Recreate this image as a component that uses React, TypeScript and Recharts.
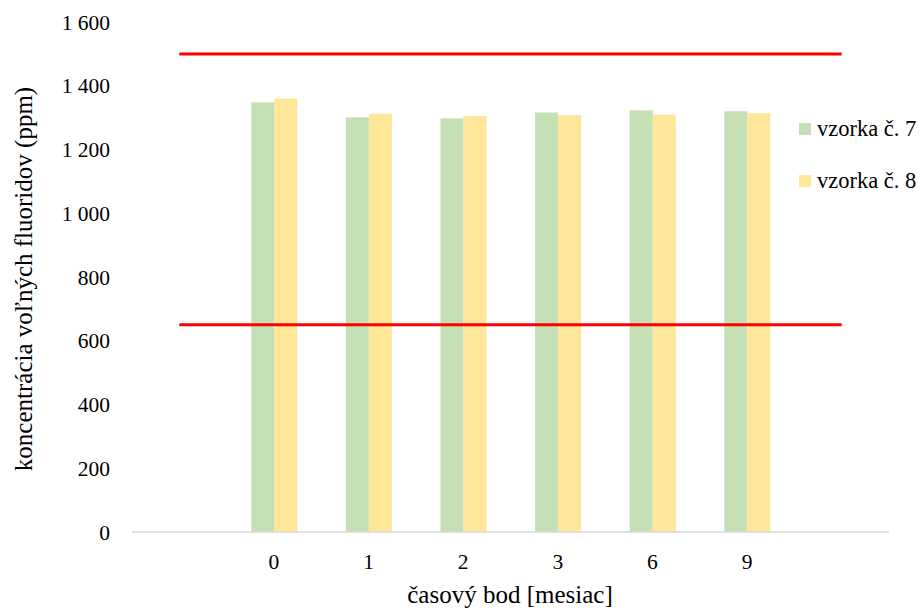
import { ComposedChart, Bar, Line, XAxis, YAxis, Legend } from "recharts";

// časové body (prázdne kategórie na okrajoch nesú len hraničné čiary)
const categories = ["", "0", "1", "2", "3", "6", "9", ""];
const sample7 = [null, 1348, 1301, 1298, 1316, 1323, 1320, null];
const sample8 = [null, 1360, 1312, 1305, 1308, 1310, 1314, null];
const upperLimit = [1500, 1500, 1500, 1500, 1500, 1500, 1500, 1500];
const lowerLimit = [650, 650, 650, 650, 650, 650, 650, 650];
const yTicks = [0, 200, 400, 600, 800, 1000, 1200, 1400, 1600];

const seriesNames = ["vzorka č. 7", "vzorka č. 8"];
const seriesColors = ["#c5e0b4", "#ffe699"];

const FONT = "Liberation Serif, DejaVu Serif, serif";

const data = categories.map((c, i) => ({
  idx: i,
  label: c,
  s7: sample7[i],
  s8: sample8[i],
  upper: upperLimit[i],
  lower: lowerLimit[i],
}));

// "1 600" – medzera ako oddeľovač tisícov
const fmt = (v: number) => String(v).replace(/\B(?=(\d{3})+(?!\d))/g, " ");

function LegendBox() {
  return (
    <div style={{ fontFamily: FONT, fontSize: 22.5, color: "#000" }}>
      {seriesNames.map((name, i) => (
        <div key={name} style={{ display: "flex", alignItems: "center", height: 52, whiteSpace: "nowrap" }}>
          <span style={{ width: 11.5, height: 11.5, background: seriesColors[i], marginRight: 6.5, flex: "none" }} />
          {name}
        </div>
      ))}
    </div>
  );
}

export default function App() {
  return (
    <div style={{ position: "absolute", left: 0, top: 0, background: "#fff", fontFamily: FONT }}>
      <ComposedChart
        width={924}
        height={610}
        data={data}
        margin={{ top: 22, right: 35, left: 0, bottom: 0 }}
        barCategoryGap="26%"
        barGap={0}
        style={{ fontFamily: FONT }}
      >
        <XAxis
          dataKey="idx"
          type="category"
          tickFormatter={(i: number) => categories[i]}
          height={78}
          tickSize={0}
          tickMargin={22}
          tickLine={false}
          axisLine={{ stroke: "#d9d9d9", strokeWidth: 1.3 }}
          tick={{ fontFamily: FONT, fontSize: 21.5, fill: "#000" }}
          interval={0}
          label={{
            content: () => (
              <text x={510} y={603} textAnchor="middle" style={{ fontFamily: FONT }} fontSize={25} fill="#000">
                časový bod [mesiac]
              </text>
            ),
          }}
        />
        <YAxis
          domain={[0, 1600]}
          ticks={yTicks}
          width={132}
          tickSize={0}
          tickMargin={22}
          tickLine={false}
          axisLine={false}
          tickFormatter={fmt}
          tick={{ fontFamily: FONT, fontSize: 21.5, fill: "#000" }}
          label={{
            content: () => (
              <text
                x={32}
                y={279}
                transform="rotate(-90 32 279)"
                textAnchor="middle"
                style={{ fontFamily: FONT }}
                fontSize={25}
                fill="#000"
              >
                koncentrácia voľných fluoridov (ppm)
              </text>
            ),
          }}
        />
        <Legend
          layout="vertical"
          align="center"
          verticalAlign="middle"
          content={() => <LegendBox />}
          wrapperStyle={{ left: 799, top: 103, width: 125 }}
        />
        <Bar dataKey="s7" name={seriesNames[0]} fill={seriesColors[0]} isAnimationActive={false} />
        <Bar dataKey="s8" name={seriesNames[1]} fill={seriesColors[1]} isAnimationActive={false} />
        <Line
          dataKey="upper"
          type="linear"
          stroke="#ff0000"
          strokeWidth={3}
          dot={false}
          legendType="none"
          isAnimationActive={false}
        />
        <Line
          dataKey="lower"
          type="linear"
          stroke="#ff0000"
          strokeWidth={3}
          dot={false}
          legendType="none"
          isAnimationActive={false}
        />
      </ComposedChart>
    </div>
  );
}
